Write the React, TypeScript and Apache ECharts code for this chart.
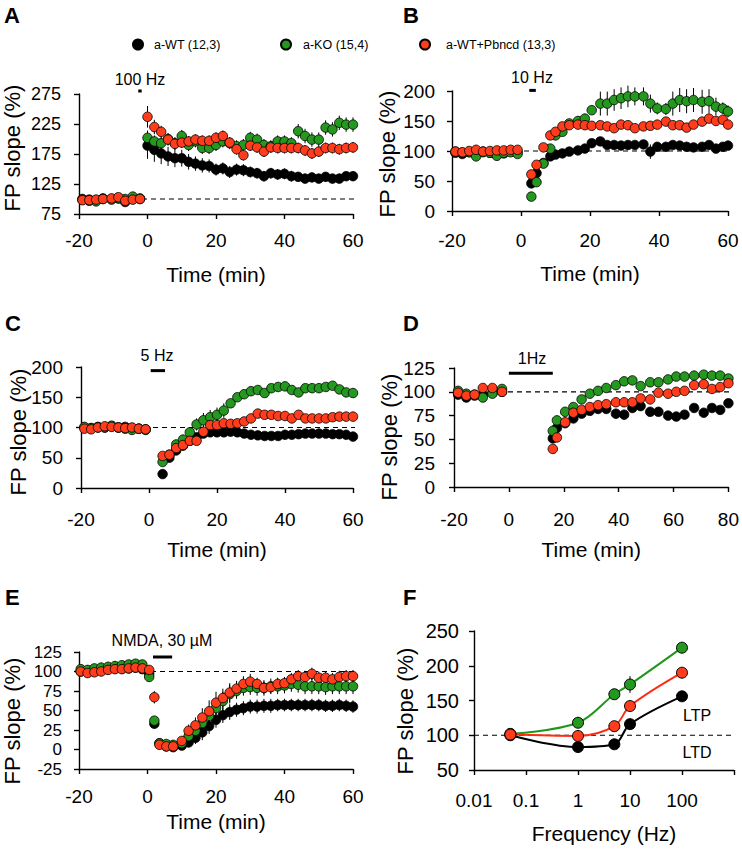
import React, { useEffect, useRef } from "react";
import * as echarts from "echarts";

const FONT = "'Liberation Sans', Arial, Helvetica, sans-serif";
const BLACK = "#000000";
const GREEN = "#24981f";
const RED = "#ff3d1c";
const NAMES = ["a-WT (12,3)", "a-KO (15,4)", "a-WT+Pbncd (13,3)"];
const REF_LEVEL = 100;

// ---------- Panel A (100 Hz) ----------
const aTime = [-19, -17, -15, -13, -10.5, -8.5, -6.5, -4.3, -2.2, 0, 2, 4, 6, 8, 10, 12, 14, 16, 18, 20, 22, 24, 26, 28, 30, 32, 34, 36, 38, 40, 42, 44, 46, 48, 50, 52, 54, 56, 58, 60];
const aBlack = [100, 99, 98, 101, 100, 101, 95, 100, 100, 189, 182, 176, 171, 168, 168, 162, 159, 156, 155, 149, 151, 145, 149, 148, 145, 143, 138, 143, 141, 142, 138, 137, 134, 136, 134, 137, 134, 134, 138, 138];
const aGreen = [99, 97, 96, 100, 99, 101, 100, 104, 101, 202, 196, 193, 200, 193, 205, 190, 196, 185, 185, 190, 196, 193, 188, 190, 202, 199, 190, 188, 196, 196, 193, 213, 205, 199, 199, 219, 216, 227, 224, 224];
const aRed = [98, 98, 99, 100, 101, 103, 97, 99, 100, 237, 220, 212, 199, 192, 194, 196, 199, 197, 197, 202, 205, 194, 183, 173, 189, 186, 179, 186, 185, 185, 185, 185, 181, 176, 179, 185, 185, 183, 185, 186];
const aBlackErr = [4, 4, 4, 4, 4, 4, 4, 4, 4, 22, 20, 18, 16, 15, 14, 13, 12, 12, 11, 10, 10, 10, 10, 10, 9, 9, 9, 9, 9, 9, 9, 8, 8, 8, 8, 8, 8, 8, 8, 8];
const aGreenErr = [4, 4, 4, 4, 4, 4, 4, 4, 4, 12, 10, 10, 10, 10, 10, 10, 10, 10, 10, 10, 10, 10, 10, 10, 10, 10, 10, 10, 10, 10, 10, 12, 12, 12, 12, 12, 12, 12, 12, 12];
const aRedErr = [4, 4, 4, 4, 4, 4, 4, 4, 4, 18, 12, 10, 10, 10, 9, 9, 9, 9, 9, 9, 9, 9, 9, 9, 9, 9, 9, 9, 9, 9, 9, 9, 9, 9, 9, 9, 9, 9, 9, 9];
const aStimTimes = [-2.7, -1.7];
const aStimLevel = 280;

// ---------- Panel B (10 Hz) ----------
const bTime = [-19, -17, -15, -13, -11, -9, -7, -5, -3, -1, 3, 4.5, 6.5, 8.5, 10, 12, 14, 16.5, 18.5, 20.5, 23, 25, 27, 29, 31, 33, 35.5, 37.5, 39.5, 42, 44, 46, 48, 50, 52.5, 54.5, 56.5, 58.5, 60];
const bBlack = [97, 95, 98, 96, 99, 97, 98, 96, 99, 98, 46, 63, 80, 91, 94, 96, 99, 101, 104, 113, 116, 110, 110, 109, 110, 110, 111, 99, 107, 107, 110, 109, 107, 106, 107, 110, 104, 107, 109];
const bGreen = [99, 97, 98, 91, 98, 97, 92, 97, 98, 95, 24, 48, 79, 104, 126, 132, 146, 150, 154, 168, 179, 179, 185, 188, 191, 191, 191, 179, 171, 170, 179, 185, 183, 185, 182, 183, 174, 171, 166];
const bRed = [99, 98, 100, 102, 99, 100, 101, 101, 102, 102, 61, 77, 106, 126, 132, 141, 143, 144, 143, 142, 143, 141, 138, 144, 143, 138, 141, 142, 144, 149, 143, 143, 139, 144, 149, 154, 150, 152, 144];
const bBlackErr = [3, 3, 3, 3, 3, 3, 3, 3, 3, 3, 4, 4, 4, 4, 4, 4, 4, 4, 5, 6, 6, 5, 5, 5, 5, 5, 5, 12, 5, 5, 5, 5, 5, 5, 5, 5, 5, 5, 5];
const bGreenErr = [3, 3, 3, 3, 3, 3, 3, 3, 3, 3, 5, 5, 5, 5, 5, 5, 6, 8, 8, 8, 20, 20, 18, 18, 18, 15, 15, 15, 10, 10, 20, 20, 20, 20, 20, 20, 15, 10, 10];
const bRedErr = [3, 3, 3, 3, 3, 3, 3, 3, 3, 3, 5, 5, 5, 5, 5, 5, 5, 5, 5, 5, 5, 5, 5, 5, 5, 5, 5, 5, 5, 5, 5, 5, 5, 5, 5, 5, 5, 5, 5];
const bStimTimes = [2.4, 4.3];
const bStimLevel = 201;

// ---------- Panel C (5 Hz) ----------
const cTime = [-19, -17, -15, -13, -11, -9, -7, -5, -3, -1, 4, 6, 8, 10, 12, 14, 16, 18, 20, 22, 24, 26, 28, 30, 32, 34, 36, 38, 40, 42, 44, 46, 48, 50, 52, 54, 56, 58, 60];
const cBlack = [100, 99, 101, 100, 102, 100, 101, 99, 98, 97, 23, 50, 62, 70, 78, 84, 90, 92, 92, 92, 93, 92, 90, 88, 87, 86, 86, 86, 88, 88, 89, 90, 90, 90, 90, 89, 89, 88, 85];
const cGreen = [101, 99, 100, 100, 103, 100, 98, 96, 98, 96, 43, 55, 72, 80, 92, 105, 112, 117, 121, 128, 140, 150, 155, 160, 162, 157, 165, 167, 168, 162, 158, 165, 165, 165, 167, 169, 163, 158, 157];
const cRed = [98, 97, 100, 102, 101, 100, 99, 100, 98, 97, 53, 55, 66, 71, 78, 78, 93, 104, 104, 107, 106, 107, 110, 115, 123, 121, 121, 119, 119, 115, 121, 115, 115, 115, 115, 117, 118, 118, 118];
const cGreenErr = [3, 3, 3, 3, 3, 3, 3, 3, 3, 3, 4, 4, 5, 5, 6, 10, 12, 12, 12, 12, 5, 5, 5, 5, 5, 5, 5, 5, 5, 5, 5, 5, 5, 5, 5, 5, 5, 5, 5];
const cStimTimes = [0.5, 4.7];
const cStimLevel = 194;

// ---------- Panel D (1 Hz) ----------
const dTime = [-18.5, -15.5, -12.5, -9.5, -6, -2.5, 16, 17.5, 20.5, 23.5, 26.5, 29.5, 32.5, 35.5, 39, 42, 45, 48, 51.5, 54.5, 58, 61, 64, 67.5, 71, 74, 77, 80];
const dBlack = [97, 94, 96, 97, 99, 100, 51, 62, 67, 72, 77, 80, 82, 82, 77, 76, 83, 85, 79, 79, 75, 74, 76, 83, 78, 83, 81, 88];
const dGreen = [101, 98, 97, 94, 98, 103, 59, 70, 79, 84, 92, 98, 101, 104, 107, 111, 112, 106, 110, 110, 113, 116, 116, 117, 118, 117, 117, 114];
const dRed = [99, 96, 97, 104, 104, 100, 40, 52, 68, 78, 81, 84, 86, 87, 89, 89, 89, 93, 92, 99, 98, 100, 101, 107, 108, 103, 105, 109];
const dBlackErr = [3, 3, 3, 3, 3, 3, 3, 3, 3, 3, 4, 4, 4, 4, 5, 5, 5, 5, 4, 4, 4, 4, 4, 4, 4, 4, 4, 4];
const dStimTimes = [0, 16];
const dStimLevel = 119.5;

// ---------- Panel E (NMDA) ----------
const eTime = [-19.5, -17.5, -15.5, -13.5, -11.5, -9.5, -7.5, -5.5, -3.5, -1.5, 0.5, 2, 3.5, 5.5, 7.5, 10, 12, 14, 16, 18, 20, 22, 24, 26, 28, 30, 32, 34, 36, 38, 40, 42, 44, 46, 48, 50, 52, 54, 56, 58, 60];
const eBlack = [100, 101, 102, 103, 103, 104, 104, 104, 105, 103, 97, 33, 8, 4, 3, 5, 9, 15, 22, 30, 38, 44, 48, 51, 53, 55, 55, 56, 56, 57, 57, 57, 57, 57, 57, 57, 56, 56, 57, 56, 55];
const eGreen = [103, 102, 104, 105, 106, 107, 108, 109, 110, 109, 93, 37, 8, 7, 6, 8, 17, 24, 34, 43, 53, 62, 71, 75, 79, 80, 79, 79, 81, 81, 82, 84, 83, 81, 81, 81, 80, 81, 81, 81, 81];
const eRed = [100, 98, 99, 100, 102, 103, 103, 104, 105, 104, 102, 67, 6, 4, 4, 11, 24, 31, 41, 49, 60, 66, 73, 78, 84, 87, 84, 79, 80, 84, 85, 90, 94, 93, 97, 92, 92, 90, 93, 94, 94];
const eBlackErr = [6, 6, 6, 6, 6, 6, 6, 6, 6, 6, 6, 6, 5, 4, 4, 5, 6, 8, 10, 10, 10, 10, 10, 9, 9, 9, 9, 9, 9, 8, 8, 8, 8, 8, 8, 8, 8, 8, 8, 8, 8];
const eGreenErr = [6, 6, 6, 6, 6, 6, 6, 6, 6, 6, 6, 6, 5, 5, 5, 6, 8, 10, 12, 12, 12, 12, 12, 10, 10, 10, 10, 10, 10, 10, 10, 10, 10, 10, 10, 10, 10, 10, 10, 10, 10];
const eRedErr = [6, 6, 6, 6, 6, 6, 6, 6, 6, 6, 6, 8, 6, 5, 5, 6, 8, 10, 12, 14, 14, 12, 12, 10, 10, 10, 8, 8, 8, 8, 8, 8, 8, 8, 8, 8, 8, 8, 8, 8, 8];
const eStimTimes = [1.6, 7.2];
const eStimLevel = 118.6;

// ---------- Panel F (frequency) ----------
const fFreq = [0.05, 1, 5, 10, 100];
const fBlack = [100, 83, 87, 116, 156];
const fGreen = [102, 118, 159, 173, 226];
const fRed = [101, 99, 113, 142, 190];
const fBlackErr = [3, 3, 3, 4, 6];
const fGreenErr = [3, 4, 4, 12, 6];
const fRedErr = [3, 3, 4, 5, 6];

const zip = (t: number[], v: number[]) => t.map((x, i) => [x, v[i]]);
const zip3 = (t: number[], v: number[], e: number[]) => t.map((x, i) => [x, v[i], e[i]]);

const errRender = (params: any, api: any) => {
  const x = api.value(0);
  const y = api.value(1);
  const e = api.value(2);
  const p1 = api.coord([x, y - e]);
  const p2 = api.coord([x, y + e]);
  return {
    type: "line",
    shape: { x1: p1[0], y1: p1[1], x2: p2[0], y2: p2[1] },
    style: { stroke: BLACK, lineWidth: 1 },
  };
};

type Panel = {
  grid: any;
  x: any;
  y: any;
  time: number[];
  vals: number[][];
  errs: (number[] | null)[];
  dash: number[];
  stimT?: number[];
  stimY?: number;
  log?: boolean;
};

const panels: Panel[] = [
  {
    grid: { left: 79, top: 94, width: 274, height: 120 },
    x: { min: -20, max: 60, interval: 20, margin: 17, nameGap: 50, name: "Time (min)" },
    y: { min: 75, max: 275, interval: 50, fontSize: 18, margin: 18 },
    time: aTime, vals: [aBlack, aGreen, aRed], errs: [aBlackErr, aGreenErr, aRedErr],
    dash: [-20, 65], stimT: aStimTimes, stimY: aStimLevel,
  },
  {
    grid: { left: 452, top: 91, width: 276, height: 120 },
    x: { min: -20, max: 60, interval: 20, margin: 20, nameGap: 52, name: "Time (min)" },
    y: { min: 0, max: 200, interval: 50, fontSize: 19, margin: 17 },
    time: bTime, vals: [bBlack, bGreen, bRed], errs: [bBlackErr, bGreenErr, bRedErr],
    dash: [-20, 62], stimT: bStimTimes, stimY: bStimLevel,
  },
  {
    grid: { left: 81, top: 367, width: 272, height: 121 },
    x: { min: -20, max: 60, interval: 20, margin: 22, nameGap: 51, name: "Time (min)" },
    y: { min: 0, max: 200, interval: 50, fontSize: 19, margin: 18 },
    time: cTime, vals: [cBlack, cGreen, cRed], errs: [null, cGreenErr, null],
    dash: [-20, 62.5], stimT: cStimTimes, stimY: cStimLevel,
  },
  {
    grid: { left: 454, top: 368, width: 276, height: 119 },
    x: { min: -20, max: 80, interval: 20, margin: 23, nameGap: 52, name: "Time (min)" },
    y: { min: 0, max: 125, interval: 25, fontSize: 19, margin: 19 },
    time: dTime, vals: [dBlack, dGreen, dRed], errs: [dBlackErr, null, null],
    dash: [-20, 84], stimT: dStimTimes, stimY: dStimLevel,
  },
  {
    grid: { left: 79, top: 652, width: 274, height: 117 },
    x: { min: -20, max: 60, interval: 20, margin: 18, nameGap: 42, name: "Time (min)" },
    y: { min: -25, max: 125, interval: 25, fontSize: 17, margin: 17 },
    time: eTime, vals: [eBlack, eGreen, eRed], errs: [eBlackErr, eGreenErr, eRedErr],
    dash: [-20, 63], stimT: eStimTimes, stimY: eStimLevel,
  },
  {
    grid: { left: 474, top: 631, width: 260, height: 139 },
    x: { min: 0.01, max: 1000, margin: 21, nameGap: 53, name: "Frequency (Hz)" },
    y: { min: 50, max: 250, interval: 50, fontSize: 20, margin: 15 },
    time: fFreq, vals: [fBlack, fGreen, fRed], errs: [fBlackErr, fGreenErr, fRedErr],
    dash: [0.01, 1000], log: true,
  },
];

const axisLine = { show: true, onZero: false, lineStyle: { color: BLACK, width: 1.4 } };
const axisTick = { show: true, inside: false, length: 5, lineStyle: { color: BLACK, width: 1.4 } };

function buildOption() {
  const grid: any[] = [];
  const xAxis: any[] = [];
  const yAxis: any[] = [];
  const series: any[] = [];
  const colors = [BLACK, GREEN, RED];
  const lineColors = [BLACK, "#1e961a", "#ff2a12"];

  panels.forEach((p, i) => {
    grid.push({ ...p.grid, containLabel: false });
    xAxis.push({
      gridIndex: i,
      type: p.log ? "log" : "value",
      logBase: 10,
      min: p.x.min,
      max: p.x.max,
      ...(p.log ? {} : { interval: p.x.interval }),
      axisLine,
      axisTick,
      splitLine: { show: false },
      axisLabel: {
        color: BLACK,
        fontSize: 19,
        fontFamily: FONT,
        margin: p.x.margin,
        formatter: p.log
          ? (v: number) => (v >= 999 ? "" : String(Number(v.toPrecision(3))))
          : undefined,
      },
      name: p.x.name,
      nameLocation: "middle",
      nameGap: p.x.nameGap,
      nameTextStyle: { color: BLACK, fontSize: 21, fontFamily: FONT },
    });
    yAxis.push({
      gridIndex: i,
      type: "value",
      min: p.y.min,
      max: p.y.max,
      interval: p.y.interval,
      axisLine,
      axisTick,
      splitLine: { show: false },
      axisLabel: { color: BLACK, fontSize: p.y.fontSize, fontFamily: FONT, margin: p.y.margin },
    });

    // dashed reference line at 100 %
    series.push({
      type: "line",
      xAxisIndex: i,
      yAxisIndex: i,
      data: [[p.dash[0], REF_LEVEL], [p.dash[1], REF_LEVEL]],
      symbol: "none",
      clip: false,
      silent: true,
      lineStyle: { color: BLACK, width: 1.2, type: [5, 4] },
      z: 1,
    });

    // stimulation bar
    if (p.stimT) {
      series.push({
        type: "line",
        xAxisIndex: i,
        yAxisIndex: i,
        data: [[p.stimT[0], p.stimY], [p.stimT[1], p.stimY]],
        symbol: "none",
        clip: false,
        silent: true,
        lineStyle: { color: BLACK, width: 3, type: "solid" },
        z: 1,
      });
    }

    // error bars
    p.errs.forEach((e, k) => {
      if (!e) return;
      series.push({
        type: "custom",
        xAxisIndex: i,
        yAxisIndex: i,
        silent: true,
        renderItem: errRender,
        data: zip3(p.time, p.vals[k], e),
        z: 2,
      });
    });

    // data series
    p.vals.forEach((v, k) => {
      if (p.log) {
        series.push({
          type: "line",
          name: NAMES[k],
          xAxisIndex: i,
          yAxisIndex: i,
          data: zip(p.time, v),
          smooth: 0.35,
          symbol: "circle",
          symbolSize: 11,
          lineStyle: { color: lineColors[k], width: 2 },
          itemStyle: { color: colors[k], borderColor: BLACK, borderWidth: 1 },
          z: 3,
        });
      } else {
        series.push({
          type: "scatter",
          name: NAMES[k],
          xAxisIndex: i,
          yAxisIndex: i,
          data: zip(p.time, v),
          symbol: "circle",
          symbolSize: 9.5,
          itemStyle: { color: colors[k], borderColor: BLACK, borderWidth: 0.8, opacity: 1 },
          z: 3,
        });
      }
    });
  });

  const txt = (text: string, x: number, y: number, size: number, opts: any = {}) => ({
    type: "text",
    x,
    y,
    rotation: opts.rotation || 0,
    silent: true,
    style: {
      text,
      fill: BLACK,
      fontSize: size,
      fontFamily: FONT,
      fontWeight: opts.bold ? "bold" : "normal",
      align: opts.align || "center",
      textAlign: opts.align || "center",
      verticalAlign: "middle",
      textVerticalAlign: "middle",
    },
  });

  const graphic: any[] = [
    txt("A", 4, 15, 22, { bold: true, align: "left" }),
    txt("B", 403, 15, 22, { bold: true, align: "left" }),
    txt("C", 5, 323, 22, { bold: true, align: "left" }),
    txt("D", 403, 323, 22, { bold: true, align: "left" }),
    txt("E", 5, 597, 22, { bold: true, align: "left" }),
    txt("F", 403, 597, 22, { bold: true, align: "left" }),
    txt("100 Hz", 140, 79, 16),
    txt("10 Hz", 532, 77, 16),
    txt("5 Hz", 157, 355, 16),
    txt("1Hz", 532, 358, 16),
    txt("NMDA, 30 µM", 162, 640, 16),
    txt("LTP", 697, 715, 16),
    txt("LTD", 697, 752, 16),
    txt("FP slope (%)", 12, 148, 22, { rotation: Math.PI / 2 }),
    txt("FP slope (%)", 387, 154, 22, { rotation: Math.PI / 2 }),
    txt("FP slope (%)", 18, 432, 22, { rotation: Math.PI / 2 }),
    txt("FP slope (%)", 389, 437, 22, { rotation: Math.PI / 2 }),
    txt("FP slope (%)", 12, 721, 22, { rotation: Math.PI / 2 }),
    txt("FP slope (%)", 405, 711, 22, { rotation: Math.PI / 2 }),
  ];

  const legendLeft = [132, 280, 419];
  const legendPad = [6, 7, 11];
  const legend = NAMES.map((n, k) => ({
    data: [n],
    left: legendLeft[k],
    top: 38,
    padding: 0,
    icon: "circle",
    itemWidth: 10,
    itemHeight: 10,
    itemGap: 0,
    selectedMode: false,
    textStyle: { color: BLACK, fontSize: 12.5, fontFamily: FONT, padding: [0, 0, 0, legendPad[k]] },
  }));

  return {
    animation: false,
    backgroundColor: "#ffffff",
    textStyle: { fontFamily: FONT },
    grid,
    xAxis,
    yAxis,
    series,
    legend,
    graphic,
  };
}

export default function App() {
  const ref = useRef<HTMLDivElement>(null);
  useEffect(() => {
    document.body.style.margin = "0";
    const chart = echarts.init(ref.current as HTMLDivElement, null, { renderer: "svg" });
    chart.setOption(buildOption() as any);
    return () => chart.dispose();
  }, []);
  return <div ref={ref} style={{ width: 742, height: 850, background: "#fff" }} />;
}
